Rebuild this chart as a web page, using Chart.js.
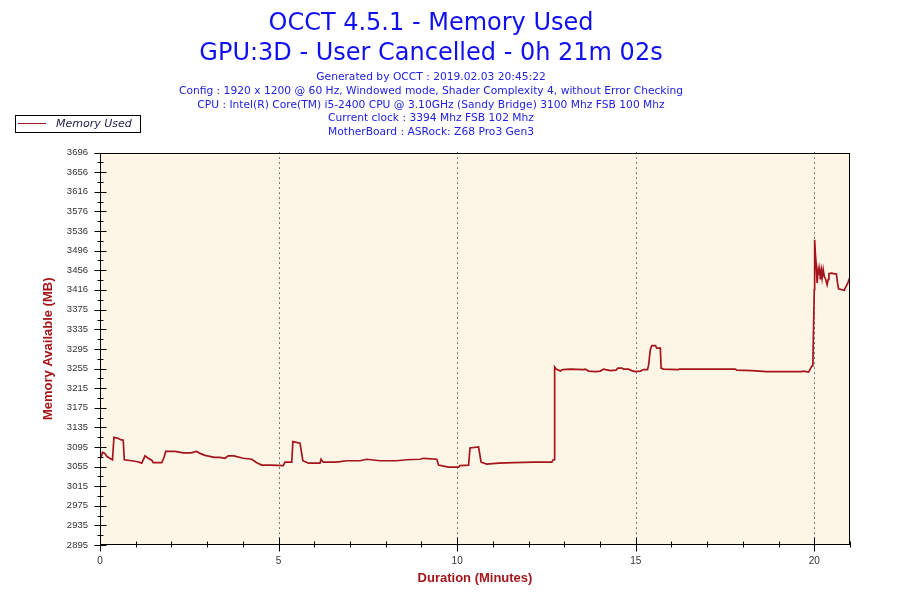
<!DOCTYPE html>
<html>
<head>
<meta charset="utf-8">
<title>OCCT 4.5.1 - Memory Used</title>
<script src="https://cdn.jsdelivr.net/npm/chart.js@4.4.1/dist/chart.umd.min.js"></script>
<style>
    html, body { margin: 0; padding: 0; background: #ffffff; }
    canvas { display: block; }
</style>
</head>
<body>
<canvas id="memChart" width="900" height="600"></canvas>
<script>
// minutes since start of the test
const minutes = [
    0.03, 0.07, 0.14, 0.19, 0.25, 0.35, 0.39, 0.50, 0.58, 0.65,
    0.68, 0.89, 1.05, 1.17, 1.26, 1.35, 1.45, 1.49, 1.73, 1.79,
    1.84, 2.10, 2.33, 2.55, 2.71, 2.80, 2.94, 3.20, 3.35, 3.50,
    3.59, 3.75, 4.01, 4.25, 4.39, 4.53, 4.80, 5.13, 5.18, 5.37,
    5.40, 5.60, 5.62, 5.68, 5.84, 6.16, 6.19, 6.25, 6.58, 6.72,
    6.91, 7.28, 7.47, 7.84, 8.31, 8.59, 8.96, 9.06, 9.43, 9.48,
    9.62, 9.76, 10.04, 10.08, 10.32, 10.36, 10.60, 10.67, 10.83, 11.16,
    11.58, 12.14, 12.42, 12.65, 12.69, 12.72, 12.73, 12.77, 12.89, 12.96,
    13.17, 13.54, 13.59, 13.68, 13.87, 14.01, 14.10, 14.29, 14.45, 14.50,
    14.61, 14.66, 14.80, 14.89, 14.99, 15.13, 15.22, 15.33, 15.36, 15.41,
    15.45, 15.55, 15.59, 15.69, 15.71, 15.78, 16.19, 16.23, 16.57, 17.79,
    17.83, 18.25, 18.67, 19.65, 19.70, 19.84, 19.93, 19.96, 20.00, 20.01,
    20.03, 20.05, 20.08, 20.11, 20.13, 20.15, 20.17, 20.20, 20.22, 20.25,
    20.28, 20.32, 20.36, 20.39, 20.41, 20.47, 20.62, 20.65, 20.68, 20.84,
    20.87, 20.94, 20.99
];

// memory (MB)
const memoryUsed = [
    3074, 3084, 3082, 3076, 3073, 3069, 3115, 3113, 3110, 3109,
    3069, 3067, 3065, 3062, 3077, 3072, 3068, 3063, 3063, 3073,
    3086, 3086, 3083, 3083, 3086, 3082, 3078, 3074, 3074, 3072,
    3077, 3077, 3072, 3070, 3063, 3058, 3058, 3057, 3064, 3064,
    3106, 3103, 3103, 3067, 3062, 3062, 3070, 3064, 3064, 3065,
    3067, 3067, 3070, 3067, 3067, 3069, 3070, 3072, 3070, 3058,
    3056, 3054, 3054, 3057, 3058, 3093, 3095, 3064, 3060, 3062,
    3063, 3064, 3064, 3064, 3069, 3069, 3258, 3254, 3250, 3253,
    3254, 3253, 3254, 3250, 3249, 3250, 3254, 3251, 3252, 3256,
    3256, 3254, 3254, 3251, 3249, 3250, 3253, 3253, 3262, 3294,
    3302, 3302, 3297, 3297, 3256, 3254, 3253, 3254, 3254, 3254,
    3252, 3251, 3249, 3249, 3250, 3248, 3260, 3261, 3416, 3518,
    3491, 3471, 3430, 3457, 3447, 3457, 3437, 3455, 3440, 3457,
    3443, 3437, 3426, 3437, 3449, 3450, 3448, 3430, 3418, 3415,
    3420, 3430, 3440
];

const yTickLabels = [
    2895, 2935, 2975, 3015, 3055, 3095, 3135, 3175, 3215, 3255, 3295,
    3335, 3375, 3416, 3456, 3496, 3536, 3576, 3616, 3656, 3696
];
const xLabeledTicks = [0, 5, 10, 15, 20];

const titleLines = [
    'OCCT 4.5.1 - Memory Used',
    'GPU:3D - User Cancelled - 0h 21m 02s'
];
const infoLines = [
    'Generated by OCCT : 2019.02.03 20:45:22',
    'Config : 1920 x 1200 @ 60 Hz, Windowed mode, Shader Complexity 4, without Error Checking',
    'CPU : Intel(R) Core(TM) i5-2400 CPU @ 3.10GHz (Sandy Bridge) 3100 Mhz FSB 100 Mhz',
    'Current clock : 3394 Mhz FSB 102 Mhz',
    'MotherBoard : ASRock: Z68 Pro3 Gen3'
];
const seriesName = 'Memory Used';

const lineColor = '#A3141C';
const axisTitleColor = '#A3161A';

Chart.defaults.font.family = 'DejaVu Sans';

// plot background, dotted grid, frame, tick marks and the boxed legend
const occtFrame = {
    id: 'occtFrame',
    beforeDatasetsDraw(chart) {
        const { ctx, chartArea: a, scales } = chart;
        ctx.save();
        ctx.fillStyle = '#FDF6E7';
        ctx.fillRect(a.left, a.top, a.right - a.left, a.bottom - a.top);

        ctx.strokeStyle = '#000';
        ctx.lineWidth = 1;
        ctx.setLineDash([1, 4]);
        xLabeledTicks.forEach(v => {
            if (v === 0) return;
            const x = Math.round(scales.x.getPixelForValue(v)) + 0.5;
            ctx.beginPath();
            ctx.moveTo(x, a.top);
            ctx.lineTo(x, a.bottom);
            ctx.stroke();
        });
        ctx.restore();
    },
    afterDatasetsDraw(chart) {
        const { ctx, chartArea: a, scales } = chart;
        ctx.save();
        ctx.strokeStyle = '#000';
        ctx.lineWidth = 1;
        ctx.strokeRect(Math.round(a.left) + 0.5, Math.round(a.top) + 0.5,
            Math.round(a.right - a.left) - 1, Math.round(a.bottom - a.top) - 1);

        const left = Math.round(a.left) + 0.5;
        const bottom = Math.round(a.bottom) - 0.5;
        ctx.beginPath();
        yTickLabels.forEach((v, i) => {
            const y = Math.round(scales.y.getPixelForValue(v)) + 0.5;
            ctx.moveTo(left - 6, y);
            ctx.lineTo(left + 6, y);
            if (i < yTickLabels.length - 1) {
                const ym = Math.round(scales.y.getPixelForValue((v + yTickLabels[i + 1]) / 2)) + 0.5;
                ctx.moveTo(left - 3, ym);
                ctx.lineTo(left + 3, ym);
            }
        });
        for (let m = 0; m <= 21; m++) {
            const x = Math.round(scales.x.getPixelForValue(m)) + 0.5;
            const len = xLabeledTicks.includes(m) ? 7 : 3;
            ctx.moveTo(x, bottom - len);
            ctx.lineTo(x, bottom + len);
        }
        ctx.stroke();
        ctx.restore();
    },
    afterDraw(chart) {
        const { ctx } = chart;
        ctx.save();
        ctx.fillStyle = '#fff';
        ctx.fillRect(15, 115, 126, 18);
        ctx.strokeStyle = '#000';
        ctx.lineWidth = 1;
        ctx.strokeRect(15.5, 115.5, 125, 17);
        ctx.strokeStyle = lineColor;
        ctx.beginPath();
        ctx.moveTo(18, 123.5);
        ctx.lineTo(46, 123.5);
        ctx.stroke();
        ctx.fillStyle = '#1c1c4a';
        ctx.font = 'italic 11px "DejaVu Sans"';
        ctx.textBaseline = 'middle';
        ctx.fillText(seriesName, 56, 124);
        ctx.restore();
    }
};

new Chart(document.getElementById('memChart'), {
    type: 'line',
    data: {
        datasets: [{
            label: seriesName,
            data: minutes.map((m, i) => ({ x: m, y: memoryUsed[i] })),
            borderColor: lineColor,
            backgroundColor: lineColor,
            borderWidth: 1.7,
            pointRadius: 0,
            tension: 0,
            fill: false
        }]
    },
    options: {
        responsive: false,
        devicePixelRatio: 1,
        animation: false,
        layout: { padding: { left: 0, right: 38, top: 0, bottom: 0 } },
        plugins: {
            legend: { display: false },
            tooltip: { enabled: false },
            title: {
                display: true,
                text: titleLines,
                color: '#1010EE',
                font: { size: 24, weight: 'normal', lineHeight: 1.25 },
                padding: { top: 9, bottom: 1 }
            },
            subtitle: {
                display: true,
                text: infoLines,
                color: '#2222E2',
                font: { size: 10.7, lineHeight: 1.3 },
                padding: { top: 0, bottom: 13 }
            }
        },
        scales: {
            x: {
                type: 'linear',
                min: 0,
                max: 21,
                grid: { display: false, drawTicks: false },
                border: { display: false },
                ticks: {
                    stepSize: 1,
                    autoSkip: false,
                    maxRotation: 0,
                    padding: 10,
                    color: '#333',
                    font: { family: 'Liberation Sans', size: 10 },
                    callback: v => (xLabeledTicks.includes(v) ? String(v) : '')
                },
                title: {
                    display: true,
                    text: 'Duration (Minutes)',
                    color: axisTitleColor,
                    font: { family: 'Liberation Sans', size: 13, weight: 'bold' },
                    padding: { top: 0, bottom: 14 }
                },
                afterFit(scale) { scale.height = 55; }
            },
            y: {
                type: 'linear',
                min: 2895,
                max: 3696,
                grid: { display: false, drawTicks: false },
                border: { display: false },
                afterBuildTicks(scale) {
                    scale.ticks = yTickLabels.map(v => ({ value: v }));
                },
                ticks: {
                    autoSkip: false,
                    padding: 12,
                    color: '#333',
                    font: { family: 'Liberation Sans', size: 9.5 },
                    callback: v => String(v)
                },
                title: {
                    display: true,
                    text: 'Memory Available (MB)',
                    color: axisTitleColor,
                    font: { family: 'Liberation Sans', size: 13, weight: 'bold' },
                    padding: { top: 41, bottom: 0 }
                },
                afterFit(scale) { scale.width = 100; }
            },
            yRight: {
                type: 'linear',
                position: 'right',
                display: true,
                grid: { display: false, drawTicks: false },
                border: { display: false },
                ticks: { display: false },
                afterFit(scale) { scale.width = 12; }
            }
        }
    },
    plugins: [occtFrame]
});
</script>
</body>
</html>
